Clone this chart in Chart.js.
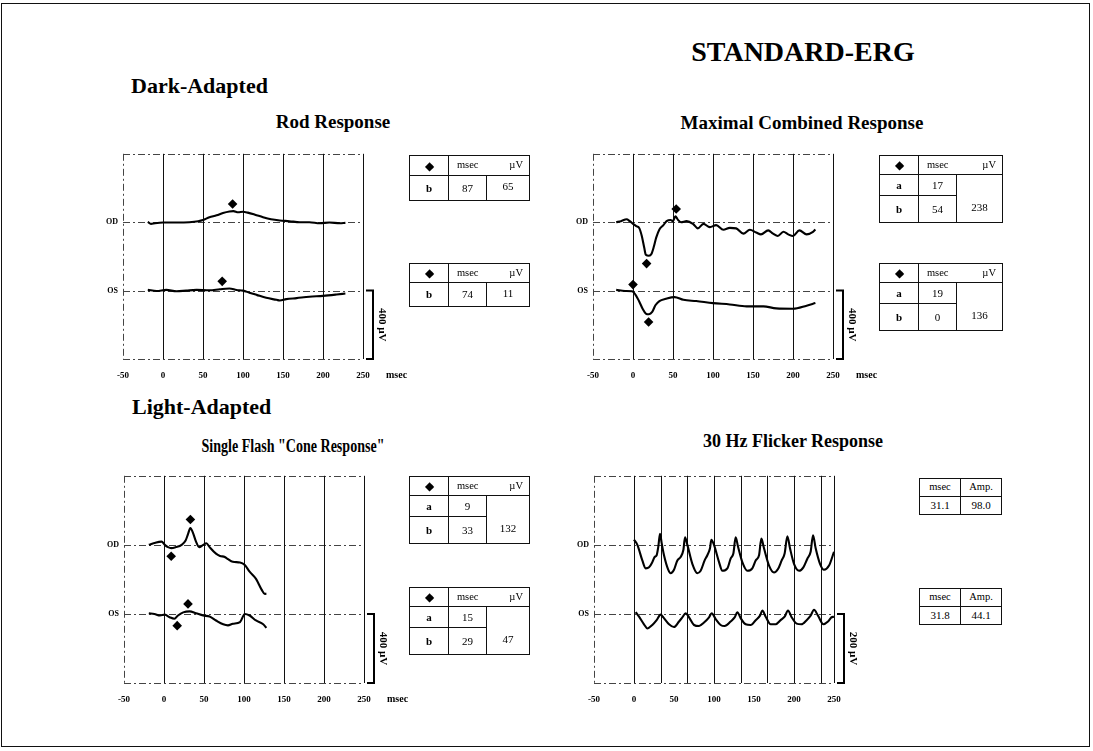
<!DOCTYPE html>
<html><head><meta charset="utf-8">
<script src="https://cdn.jsdelivr.net/npm/chart.js@4.4.1/dist/chart.umd.min.js"></script>
<style>
html,body{margin:0;padding:0;background:#fff;}
#page{position:relative;width:1093px;height:751px;overflow:hidden;font-family:"Liberation Serif","Times New Roman",serif;color:#000;background:#fff;}
#frame{position:absolute;left:1px;top:3px;width:1087px;height:742px;border:1.5px solid #111;}
.t{position:absolute;white-space:nowrap;font-weight:bold;line-height:1;}
canvas{position:absolute;}
table.v{position:absolute;border-collapse:collapse;table-layout:fixed;font-size:11px;}
table.v td{border:1.3px solid #111;text-align:center;padding:0;line-height:1;}
</style></head><body><div id="page"><div id="frame"></div></div>
<script>
// ---------- DATA ----------
const xTickValues = [-50, 0, 50, 100, 150, 200, 250];
const flickerGrid = [0, 33.3, 66.7, 100, 133.3, 166.7, 200, 233.3, 250];
const stdGrid = [0, 50, 100, 150, 200, 250];

// traces: [msec, µV relative to the eye's baseline]
const rodOD = [[-19,2],[-15,-10],[-10,-6],[0,-2],[17,-2],[33,0],[44,6],[50,13],[58,29],[67,40],[75,54],[83,63],[88,65],[94,58],[100,61],[106,56],[115,44],[125,29],[135,17],[146,10],[158,6],[171,0],[183,0],[196,-6],[208,-2],[221,-6],[228,-4]];
const rodOS = [[-19,4],[-8,-2],[4,4],[17,-4],[29,0],[42,4],[58,2],[71,8],[83,12],[92,4],[100,0],[108,-12],[117,-25],[129,-42],[142,-54],[146,-58],[154,-50],[167,-44],[183,-36],[200,-31],[217,-23],[228,-17]];
const maxOD = [[-21,0],[-15,6],[-8,17],[-4,6],[1,-13],[4,-23],[8,-36],[11,-81],[14,-148],[16,-190],[20,-196],[23,-186],[26,-144],[29,-90],[33,-42],[38,-17],[42,6],[47,13],[50,6],[53,35],[56,15],[60,0],[67,6],[75,-10],[81,-36],[88,-10],[96,-29],[104,-17],[113,-44],[121,-33],[129,-36],[138,-67],[146,-44],[154,-60],[160,-71],[169,-48],[175,-67],[181,-81],[188,-56],[194,-71],[200,-81],[208,-48],[217,-71],[225,-56],[228,-42]];
const maxOS = [[-21,4],[-10,-2],[-1,-4],[3,-23],[7.5,-61],[12,-106],[16,-134],[20,-138],[24,-125],[28,-86],[33,-61],[41,-48],[52,-38],[63,-54],[79,-61],[100,-73],[121,-81],[142,-92],[163,-92],[179,-104],[200,-106],[217,-88],[228,-73]];
const coneOD = [[-19,0],[-12,11],[-3,19],[1,0],[5,-13],[9,-19],[15,-13],[22,0],[27,25],[30,62],[33,98],[36,72],[40,19],[44,-13],[49,0],[53,9],[57,-13],[65,-51],[70,-64],[76,-70],[80,-83],[86,-98],[95,-102],[101,-117],[107,-155],[115,-197],[122,-259],[126,-284],[128,-282]];
const coneOS = [[-19,4],[-12,0],[-5,-9],[1,-4],[7,-19],[13,-28],[17.5,-9],[24,9],[32,15],[40,4],[49,-9],[57,-15],[65,-38],[74,-60],[80,-66],[86,-57],[95,-47],[101,0],[107,-9],[115,-38],[124,-60],[128,-81]];
const flickOD = [[0,15],[4.2,0],[10.4,-45],[14.6,-68],[18.8,-65],[22.9,-50],[25.8,-35],[28.3,-30],[30.4,-5],[32.5,32],[34.6,5],[37.5,-30],[42.5,-70],[45.8,-82],[50,-72],[54.2,-45],[58.3,-35],[61.7,-15],[63.8,22],[66.7,0],[72.9,-55],[79.2,-82],[83.3,-75],[88.3,-45],[91.7,-30],[95,-10],[96.7,15],[100,0],[106.3,-50],[110.4,-75],[116.7,-68],[120.8,-40],[124.2,-25],[127.1,22],[130,-5],[135.4,-50],[141.7,-75],[147.9,-68],[152.1,-45],[156.3,-30],[159.2,18],[162.5,-10],[168.8,-60],[175,-80],[180,-70],[184.6,-45],[188.3,-25],[191.7,25],[195,-10],[200,-55],[206.3,-75],[211.7,-65],[216.7,-40],[220.8,-20],[223.8,28],[227.1,-10],[232.5,-55],[237.5,-72],[243.8,-60],[250,-20]];
const flickOS = [[2.1,5],[6.3,-8],[12.5,-30],[16.7,-42],[22.9,-32],[28.3,-18],[33.3,-2],[36.7,-10],[43.8,-30],[50,-38],[56.3,-22],[60.4,-10],[64.6,2],[68.8,-10],[75,-32],[81.3,-35],[87.5,-25],[93.8,-10],[97.1,2],[102.1,-15],[108.3,-32],[113.3,-35],[120.8,-22],[125.8,-10],[129.2,5],[133.3,-12],[139.6,-30],[145.8,-32],[152.1,-18],[157.5,-5],[160.4,10],[164.6,-8],[170.8,-30],[177.1,-30],[183.3,-18],[188.3,-8],[192.5,10],[196.7,-8],[203.3,-28],[209.2,-30],[215.8,-18],[220.8,-5],[225,12],[230,-5],[236.7,-30],[242.5,-22],[246.7,-10],[250,-8]];

// diamond markers as read on the scale: [msec, µV]
const rodODMarks = [[87,106]];
const rodOSMarks = [[74,54]];
const maxODMarks = [[17,-242],[54,77]];
const maxOSMarks = [[0,35],[19.5,-184]];
const coneODMarks = [[9,-66],[33,147]];
const coneOSMarks = [[16.5,-68],[30,58]];

// result tables
const rodODRows = [['b','87']];   const rodODAmp = '65';
const rodOSRows = [['b','74']];   const rodOSAmp = '11';
const maxODRows = [['a','17'],['b','54']]; const maxODAmp = '238';
const maxOSRows = [['a','19'],['b','0']];  const maxOSAmp = '136';
const coneODRows = [['a','9'],['b','33']]; const coneODAmp = '132';
const coneOSRows = [['a','15'],['b','29']]; const coneOSAmp = '47';
const flickODRow = ['31.1','98.0'];
const flickOSRow = ['31.8','44.1'];
const markerHeader = ['\u25C6','msec','\u00B5V'];
const flickHeader = ['msec','Amp.'];

// ---------- RENDERING ----------
const PAGE = document.getElementById('page');
const SERIF = '"Liberation Serif","Times New Roman",serif';

function addText(txt, x, baseline, fs, center, sx){
  const d = document.createElement('div');
  d.className = 't'; d.textContent = txt;
  d.style.fontSize = fs + 'px';
  d.style.top = (baseline - 0.8375 * fs) + 'px';
  d.style.left = x + 'px';
  if (center) d.style.transform = 'translateX(-50%)' + (sx ? ' scaleX(' + sx + ')' : '');
  PAGE.appendChild(d);
}

function makePanel(cfg){
  const PADL = 34, PADR = 62, PADT = 8, PADB = 30;
  const W = Math.round(PADL + cfg.w + PADR), H = Math.round(PADT + cfg.h + PADB);
  const c = document.createElement('canvas');
  c.width = W; c.height = H;
  c.style.width = W + 'px'; c.style.height = H + 'px';
  c.style.left = (cfg.left - PADL) + 'px';
  c.style.top = (cfg.top - PADT) + 'px';
  PAGE.appendChild(c);
  const off = cfg.odOffset;
  const line = {borderColor:'#000', borderWidth:2.1, pointRadius:0, fill:false, cubicInterpolationMode:'monotone'};
  const marks = cfg.odMarks.map(p => ({x:p[0], y:p[1] + off})).concat(cfg.osMarks.map(p => ({x:p[0], y:p[1]})));
  const datasets = [
    Object.assign({data: cfg.od.map(p => ({x:p[0], y:p[1] + off}))}, line),
    Object.assign({data: cfg.os.map(p => ({x:p[0], y:p[1]}))}, line)
  ];
  if (marks.length) datasets.push({data: marks, showLine:false, pointStyle:'rectRot', pointRadius:4.8, backgroundColor:'#000', borderColor:'#000', borderWidth:0});

  const gridPlugin = {
    id: 'ergGrid',
    beforeDatasetsDraw(chart){
      const {ctx, chartArea:a, scales:{x, y}} = chart;
      ctx.save();
      ctx.strokeStyle = '#444'; ctx.lineWidth = 1;
      ctx.setLineDash([7,3,2,3]);
      [y.max, y.min, off, 0].forEach(v => {
        const py = Math.round(y.getPixelForValue(v)) + 0.5;
        ctx.beginPath(); ctx.moveTo(a.left, py); ctx.lineTo(a.right, py); ctx.stroke();
      });
      const lx = Math.round(x.getPixelForValue(x.min)) + 0.5;
      ctx.beginPath(); ctx.moveTo(lx, a.top); ctx.lineTo(lx, a.bottom); ctx.stroke();
      ctx.setLineDash([]);
      ctx.strokeStyle = '#111';
      cfg.vlines.forEach(v => {
        const px = Math.round(x.getPixelForValue(v)) + 0.5;
        ctx.beginPath(); ctx.moveTo(px, a.top); ctx.lineTo(px, a.bottom); ctx.stroke();
      });
      ctx.restore();
    },
    afterDraw(chart){
      const {ctx, chartArea:a, scales:{x, y}} = chart;
      ctx.save();
      const bx = a.right + 10;
      const y0 = y.getPixelForValue(0), y1 = y.getPixelForValue(y.min);
      ctx.strokeStyle = '#000'; ctx.lineWidth = 2;
      ctx.beginPath();
      ctx.moveTo(bx - 7, y0); ctx.lineTo(bx, y0); ctx.lineTo(bx, y1); ctx.lineTo(bx - 7, y1);
      ctx.stroke();
      ctx.fillStyle = '#000';
      ctx.font = 'bold 11px ' + SERIF;
      ctx.translate(bx + 9, (y0 + y1) / 2);
      ctx.rotate(Math.PI / 2);
      ctx.textAlign = 'center'; ctx.textBaseline = 'middle';
      ctx.fillText(cfg.barLabel, 0, 0);
      ctx.restore();
      if (cfg.unit){
        ctx.save();
        ctx.fillStyle = '#000';
        ctx.font = 'bold 10px ' + SERIF;
        ctx.textAlign = 'left'; ctx.textBaseline = 'middle';
        ctx.fillText(cfg.unit, a.right + 23, a.bottom + 16);
        ctx.restore();
      }
    }
  };

  new Chart(c, {
    type: 'line',
    data: {datasets},
    options: {
      responsive: false, animation: false, events: [],
      layout: {padding: {left: 0, right: PADR, top: PADT, bottom: 0}},
      plugins: {legend: {display: false}, tooltip: {enabled: false}},
      scales: {
        x: {
          type: 'linear', min: -50, max: 250,
          afterBuildTicks: s => { s.ticks = xTickValues.map(v => ({value: v})); },
          ticks: {color: '#000', font: {family: SERIF, size: 9, weight: 'bold'}, padding: 11, maxRotation: 0, autoSkip: false, callback: v => String(v)},
          grid: {display: false, drawTicks: false}, border: {display: false},
          afterFit: s => { s.height = PADB; }
        },
        y: {
          type: 'linear', min: cfg.ymin, max: cfg.ymax,
          afterBuildTicks: s => { s.ticks = [{value: 0}, {value: off}]; },
          ticks: {color: '#000', font: {family: SERIF, size: 8, weight: 'bold'}, padding: 5, callback: v => (v === 0 ? 'OS' : 'OD')},
          grid: {display: false, drawTicks: false}, border: {display: false},
          afterFit: s => { s.width = PADL; }
        }
      }
    },
    plugins: [gridPlugin]
  });
}

function addTable(left, top, colW, rowH, header, rows, amp, mergeHeader){
  const t = document.createElement('table');
  t.className = 'v';
  t.style.left = left + 'px'; t.style.top = top + 'px';
  t.style.width = colW.reduce((s, w) => s + w, 0) + 'px';
  const cg = document.createElement('colgroup');
  colW.forEach(w => { const col = document.createElement('col'); col.style.width = w + 'px'; cg.appendChild(col); });
  t.appendChild(cg);
  const hr = t.insertRow(); hr.style.height = rowH[0] + 'px';
  header.forEach((h, i) => {
    const td = hr.insertCell(); td.textContent = h;
    td.style.fontSize = (h === '\u25C6') ? '12px' : '10.5px';
    if (mergeHeader && i === 1) td.style.borderRight = 'none';
    if (mergeHeader && i === 2) { td.style.borderLeft = 'none'; td.style.textAlign = 'right'; td.style.paddingRight = '6px'; }
  });
  rows.forEach((r, ri) => {
    const tr = t.insertRow(); tr.style.height = rowH[ri + 1] + 'px';
    r.forEach((v, ci) => {
      const td = tr.insertCell(); td.textContent = v;
      if (ci === 0 && mergeHeader) td.style.fontWeight = 'bold';
    });
    if (amp !== null && ri === 0){
      const td = tr.insertCell(); td.textContent = amp;
      td.rowSpan = rows.length;
      td.style.verticalAlign = 'bottom';
      td.style.paddingBottom = Math.round((rowH[rowH.length - 1] - 10) / 2) + 'px';
    }
  });
  PAGE.appendChild(t);
}

// titles
addText('STANDARD-ERG', 803, 61, 28, true);
addText('Dark-Adapted', 131, 93, 22, false);
addText('Rod Response', 333, 128, 19, true);
addText('Maximal Combined Response', 802, 129, 19, true);
addText('Light-Adapted', 132, 414, 22, false);
addText('Single Flash "Cone Response"', 293, 452, 18, true, 0.78);
addText('30 Hz Flicker Response', 793, 447, 18, true);

// panels
makePanel({left:123.3, top:151.7, w:240, h:207.3, ymin:-400, ymax:800, odOffset:400, od:rodOD, os:rodOS, odMarks:rodODMarks, osMarks:rodOSMarks, vlines:stdGrid, barLabel:'400 \u00B5V', unit:'msec'});
makePanel({left:593.4, top:151.7, w:239.5, h:207.3, ymin:-400, ymax:800, odOffset:400, od:maxOD, os:maxOS, odMarks:maxODMarks, osMarks:maxOSMarks, vlines:stdGrid, barLabel:'400 \u00B5V', unit:'msec'});
makePanel({left:124.3, top:474.3, w:239.5, h:208.5, ymin:-400, ymax:800, odOffset:400, od:coneOD, os:coneOS, odMarks:coneODMarks, osMarks:coneOSMarks, vlines:stdGrid, barLabel:'400 \u00B5V', unit:'msec'});
makePanel({left:594, top:474.3, w:240, h:208.5, ymin:-200, ymax:400, odOffset:200, od:flickOD, os:flickOS, odMarks:[], osMarks:[], vlines:flickerGrid, barLabel:'200 \u00B5V', unit:null});

// tables
addTable(409, 155, [39,38,43], [20,25], markerHeader, rodODRows, rodODAmp, true);
addTable(409, 263, [39,38,43], [19,24], markerHeader, rodOSRows, rodOSAmp, true);
addTable(879, 155, [39,38,46], [19,21,27], markerHeader, maxODRows, maxODAmp, true);
addTable(879, 263, [39,38,46], [19,21,27], markerHeader, maxOSRows, maxOSAmp, true);
addTable(409, 476, [39,38,43], [19,21,27], markerHeader, coneODRows, coneODAmp, true);
addTable(409, 587, [39,38,43], [19,21,27], markerHeader, coneOSRows, coneOSAmp, true);
addTable(919, 478, [41,41], [18,18], flickHeader, [flickODRow], null, false);
addTable(919, 588, [41,41], [18,18], flickHeader, [flickOSRow], null, false);
</script>
</body></html>
